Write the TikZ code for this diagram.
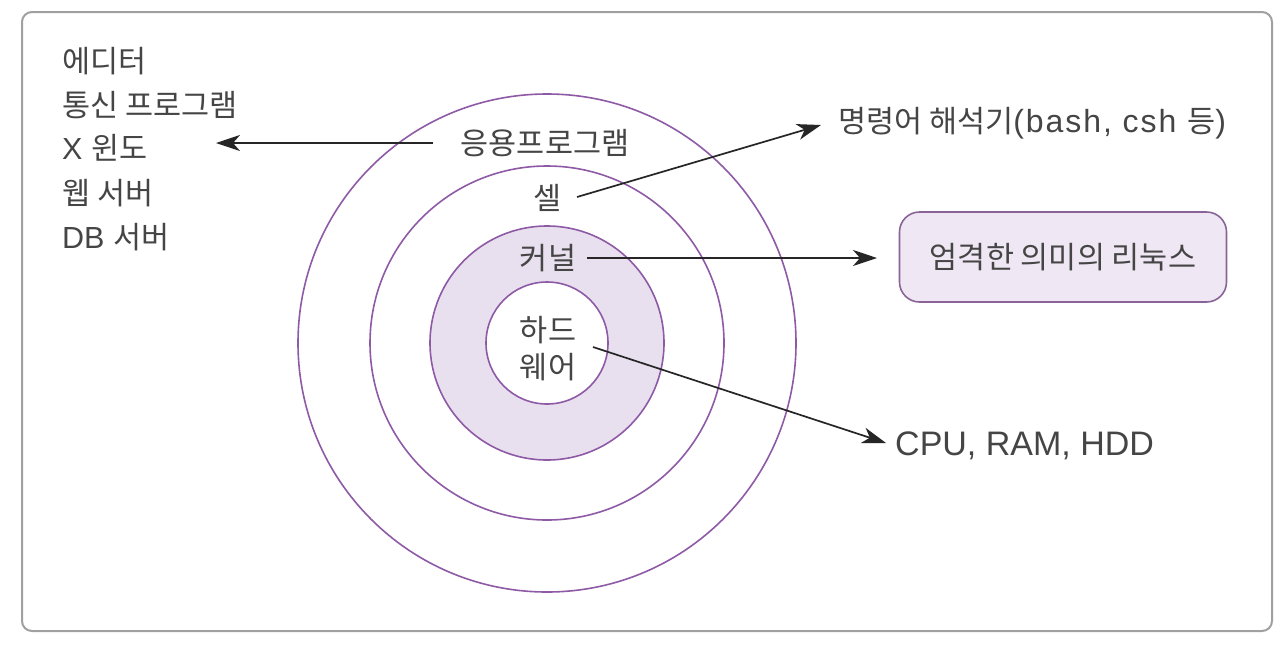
\documentclass[tikz,border=0pt]{standalone}
\usepackage{fontspec}
\setmainfont{Liberation Sans}
\newfontfamily\kr{Noto Sans CJK KR}
\newfontfamily\latsp[LetterSpace=6]{Liberation Sans}
\usetikzlibrary{arrows.meta}
\definecolor{txt}{HTML}{454545}
\definecolor{ring}{HTML}{8E5AA6}
\definecolor{kfill}{HTML}{E9E0EF}
\definecolor{boxfill}{HTML}{EFE7F4}
\definecolor{boxline}{HTML}{8A6497}
\definecolor{framecol}{HTML}{A0A0A0}
\newcommand{\latbig}[1]{{\latsp\fontsize{32}{37}\selectfont #1}}
\begin{document}
\begin{tikzpicture}[x=1pt,y=-1pt,
  lbl/.style={inner sep=0pt, text=txt, font=\fontsize{30.5}{37}\selectfont},
  ringline/.style={draw=ring, line width=1.6pt},
  arr/.style={draw=black!85, line width=1.7pt, -{Stealth[length=24pt,width=16pt,inset=7pt]}},
  linuxbox/.style={draw=boxline, fill=boxfill, line width=1.6pt, rounded corners=20pt,
    minimum width=327pt, minimum height=90pt, inner sep=0pt, text=txt,
    font=\fontsize{30.5}{34}\selectfont},
]
\useasboundingbox (0,0) rectangle (1280,649);
\fill[white] (0,0) rectangle (1280,649);
\draw[framecol, line width=2pt, rounded corners=10pt] (22,12) rectangle (1272,631);

% rings
\draw[ringline] (547,343) circle[radius=249pt];
\draw[ringline] (547,343) circle[radius=177pt];
\draw[ringline, fill=kfill] (547,343) circle[radius=117pt];
\draw[ringline, fill=white] (547,343) circle[radius=61pt];

% left list
\node[lbl, anchor=west] (l1) at (62,61) {\kr 에디터};
\node[lbl, anchor=west] (l2) at (62,105) {\kr 통신 프로그램};
\node[lbl, anchor=west] (l3) at (62,148) {X {\kr 윈도}};
\node[lbl, anchor=west] (l4) at (62,193) {\kr 웹 서버};
\node[lbl, anchor=west] (l5) at (62,237) {DB {\kr 서버}};

% ring labels
\node[lbl] (app) at (545,143) {\kr 응용프로그램};
\node[lbl] (shell) at (548,198) {\kr 셀};
\node[lbl] (kernel) at (548,258) {\kr 커널};
\node[lbl, align=center] (hw) at (548,349) {\kr 하드\\\kr 웨어};

% right labels
\node[lbl, anchor=west] (cmd) at (838,123) {{\kr 명령어 해석기}\latbig{(bash, csh }{\kr 등}\latbig{)}};
\node[linuxbox] (linux) at (1063,257) {\kr 엄격한 의미의 리눅스};
\node[lbl, anchor=west, font=\fontsize{34}{38}\selectfont] (cpu) at (895,446) {CPU, RAM, HDD};

% connector end points
\coordinate (a1s) at (433,143);
\coordinate (a1e) at (216,143);
\coordinate (a2s) at (577,197);
\coordinate (a2e) at (821,125);
\coordinate (a3s) at (587,258);
\coordinate (a3e) at (877,258);
\coordinate (a4s) at (593,347);
\coordinate (a4e) at (886,443);

\draw[arr] (a1s) -- (a1e);
\draw[arr] (a2s) -- (a2e);
\draw[arr] (a3s) -- (a3e);
\draw[arr] (a4s) -- (a4e);
\end{tikzpicture}
\end{document}
